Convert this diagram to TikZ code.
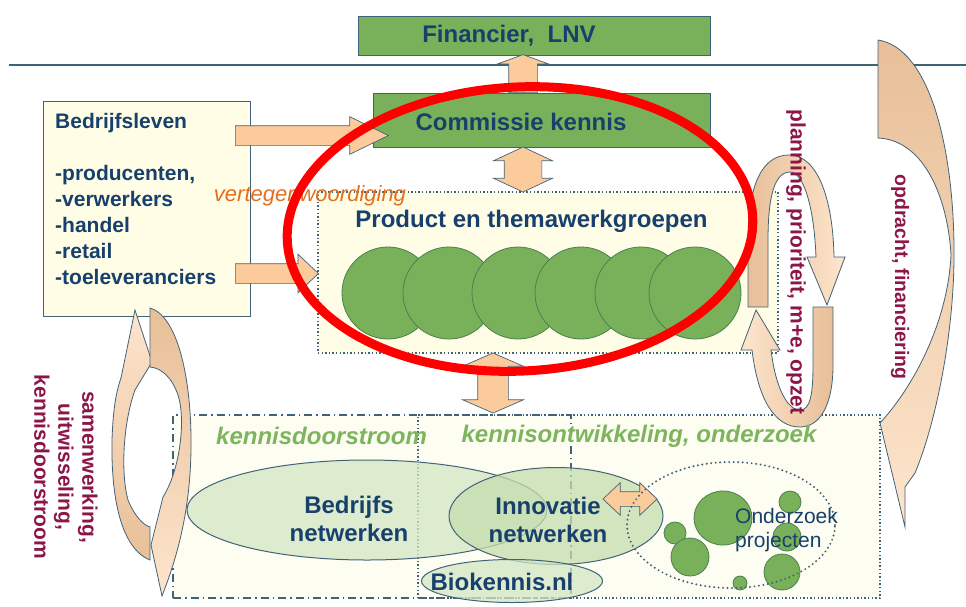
\documentclass[tikz,border=0pt]{standalone}
\usepackage{fontspec}
\setmainfont{Liberation Sans}
\usepackage{tikz}
\usetikzlibrary{shapes.geometric}
\usetikzlibrary{shapes.arrows}
\definecolor{groen}{HTML}{78B159}
\definecolor{bolrand}{HTML}{4B7F52}
\definecolor{rand}{HTML}{426377}
\definecolor{blauw}{HTML}{17406D}
\definecolor{perzik}{HTML}{FBCB9B}
\definecolor{bruin}{HTML}{E8BF98}
\definecolor{licht}{HTML}{FDE5CD}
\definecolor{creme}{HTML}{FFFDE6}
\definecolor{bleek}{HTML}{FDFDF1}
\definecolor{lichtgroen}{HTML}{D3E6C3}
\definecolor{midgroen}{HTML}{C4DDAF}
\definecolor{wijn}{HTML}{8C1747}
\definecolor{oranje}{HTML}{E26F1E}
\definecolor{kleurgroen}{HTML}{7DB55E}
\tikzstyle{vak}=[draw=rand, line width=0.9pt, inner sep=0pt]
\tikzstyle{groenvak}=[vak, fill=groen]
\tikzstyle{stippel}=[line width=1.4pt, dash pattern=on 1.4pt off 2.2pt]
\tikzstyle{streeppunt}=[line width=1.2pt, dash pattern=on 8pt off 4pt on 1.5pt off 4pt]
\tikzstyle{kop}=[text=blauw, font=\fontsize{24}{28}\selectfont\bfseries, inner sep=0pt]
\tikzstyle{gewoon}=[text=blauw, font=\fontsize{21}{26}\selectfont\bfseries, inner sep=0pt, align=left]
\tikzstyle{schuin}=[text=kleurgroen, font=\fontsize{24}{26}\selectfont\bfseries\itshape, inner sep=0pt]
\tikzstyle{paars}=[text=wijn, font=\fontsize{21}{24}\selectfont\bfseries, inner sep=0pt, rotate=-90, align=center]
\tikzstyle{pijl}=[draw=rand, fill=perzik, line width=0.7pt, inner xsep=0pt]
\tikzstyle{enkel}=[pijl, single arrow]
\tikzstyle{dubbel}=[pijl, double arrow]
\tikzstyle{bol}=[circle, draw=bolrand, fill=groen, line width=0.8pt, inner sep=0pt]
\tikzstyle{wolk}=[ellipse, draw=rand, line width=1pt, inner sep=0pt, fill opacity=0.75]
\tikzstyle{lus}=[draw=rand, line width=0.8pt]

\begin{document}
\begin{tikzpicture}[x=1pt, y=-1pt]
    \useasboundingbox (0,0) rectangle (966,606);
    \draw[rand, line width=1.3pt] (9,65) -- (966,65);
    \fill[bleek] (173,415) rectangle (880,598);
    \node[vak, streeppunt, minimum width=398pt, minimum height=183pt] (doorstroom) at (372,506.5) {};
    \node[vak, stippel, minimum width=462pt, minimum height=183pt] (ontwikkeling) at (649,506.5) {};
    \node[vak, stippel, fill=creme, minimum width=460pt, minimum height=161pt] (werkgroepen) at (548,272.5) {};
    \node[vak, fill=creme, minimum width=207pt, minimum height=215pt] (bedrijfsleven) at (146.5,208.5) {};
    \node[groenvak, minimum width=352pt, minimum height=39pt] (financier) at (534,35.5) {};
    \node[groenvak, minimum width=337pt, minimum height=54pt] (commissie) at (541.5,120) {};

    \node[enkel, rotate=90, anchor=tail, minimum height=38pt, inner ysep=14pt, single arrow head extend=11pt, single arrow tip angle=140] (omhoog) at (523,93) {};
    \node[dubbel, rotate=90, minimum height=45pt, inner ysep=18.5pt, double arrow head extend=10.5pt, double arrow tip angle=130] (comwerk) at (523,169.5) {};
    \node[dubbel, rotate=90, minimum height=60pt, inner ysep=15pt, double arrow head extend=15pt, double arrow tip angle=133] (werkkennis) at (493,383) {};
    \node[enkel, anchor=tail, minimum height=153pt, inner ysep=9.5pt, single arrow head extend=9pt, single arrow tip angle=52] (naarcommissie) at (235,135.5) {};
    \node[enkel, anchor=tail, minimum height=83pt, inner ysep=9.5pt, single arrow head extend=9.5pt, single arrow tip angle=87] (naarwerkgroepen) at (235,273.5) {};

    \foreach \x [count=\i] in {388,449,518,581,641,695}
        \node[bol, minimum size=92pt] (groep\i) at (\x,293) {};

    \node[wolk, fill=lichtgroen, minimum width=360pt, minimum height=100pt] (bedrijfsnet) at (367,510) {};
    \node[wolk, fill=midgroen, minimum width=214pt, minimum height=97pt] (innovatienet) at (556,516) {};
    \node[wolk, fill=lichtgroen, minimum width=181pt, minimum height=43pt] (biokennis) at (512,581) {};
    \node[dubbel, minimum height=54pt, inner ysep=7pt, double arrow head extend=9pt, double arrow tip angle=87] (innoonderzoek) at (630,499) {};

    \node[bol, ellipse, minimum width=58pt, minimum height=54pt] (proj1) at (723,518) {};
    \node[bol, minimum size=22pt] (proj2) at (675,533) {};
    \node[bol, minimum size=38pt] (proj3) at (690,557) {};
    \node[bol, minimum size=22pt] (proj4) at (790,502) {};
    \node[bol, minimum size=28pt] (proj5) at (787,537) {};
    \node[bol, minimum size=36pt] (proj6) at (782,572) {};
    \node[bol, minimum size=14pt] (proj7) at (740,583) {};
    \node[ellipse, draw=rand, line width=2.2pt, line cap=round, dash pattern=on 0pt off 4.5pt, minimum width=208pt, minimum height=126pt] (projecten) at (731,525) {};

    \draw[lus, left color=bruin, right color=licht] (748,307) -- (748,240) .. controls (748,185) and (762,155) .. (789,155)
        .. controls (818,155) and (833,200) .. (834,257) -- (845,257) -- (827,305) -- (807,257) -- (816,257)
        .. controls (814,205) and (803,172) .. (790,172) .. controls (775,172) and (768,195) .. (768,240) -- (768,307) -- cycle;
    \draw[lus, left color=licht, right color=bruin] (813,307) -- (833,307) -- (833,365) .. controls (833,405) and (820,427) .. (800,427)
        .. controls (775,427) and (758,400) .. (752,350) -- (741,350) -- (756,310) -- (780,350) -- (771,350)
        .. controls (776,390) and (788,410) .. (800,410) .. controls (810,410) and (813,395) .. (813,365) -- cycle;

    \draw[lus, top color=licht, bottom color=bruin] (150,560) .. controls (120,548) and (111,495) .. (112,440)
        .. controls (113,410) and (116,392) .. (121,378) -- (135,310) -- (152,362) -- (135,390)
        .. controls (124,420) and (120,470) .. (128,500) .. controls (134,515) and (143,525) .. (150,527) -- cycle;
    \draw[lus, top color=bruin, bottom color=licht] (150,308) .. controls (178,316) and (192,380) .. (191,450)
        .. controls (190,510) and (178,555) .. (162,596) -- (151,545) -- (163,497)
        .. controls (180,470) and (186,420) .. (178,395) .. controls (172,378) and (162,368) .. (150,367) -- cycle;

    \draw[lus, top color=bruin, bottom color=licht] (878,40) .. controls (930,48) and (955,150) .. (954,260)
        .. controls (953,340) and (935,425) .. (915,473) -- (905,487) -- (905,527) -- (880,423)
        .. controls (915,385) and (948,320) .. (951,255) .. controls (948,200) and (925,140) .. (878,138) -- cycle;

    \node[kop] (financiertekst) at (509,36) {Financier,~~LNV};
    \node[kop] (commissietekst) at (521,122) {Commissie kennis};
    \node[kop] (werktekst) at (531.5,221) {Product en themawerkgroepen};
    \node[gewoon, anchor=north west] (levenstekst) at (55,113) {Bedrijfsleven\\[26pt]-producenten,\\-verwerkers\\-handel\\-retail\\-toeleveranciers};
    \node[text=oranje, font=\fontsize{22}{24}\selectfont\itshape, inner sep=0pt] (vertegenw) at (310,196) {vertegenwoordiging};
    \node[schuin] (doorstroomtekst) at (321.5,436) {kennisdoorstroom};
    \node[schuin] (ontwikkeltekst) at (639,436) {kennisontwikkeling, onderzoek};
    \node[kop, align=center] (bedrijfsnettekst) at (349,519) {Bedrijfs\\netwerken};
    \node[kop, align=center] (innovatietekst) at (548,520) {Innovatie\\netwerken};
    \node[kop] (biokennistekst) at (502,582) {Biokennis.nl};
    \node[gewoon, font=\fontsize{21}{24}\selectfont, anchor=west] (projtekst) at (735,530) {Onderzoek\\projecten};
    \node[paars] (plantekst) at (796,262) {planning, prioriteit, m+e, opzet};
    \node[paars, font=\fontsize{19.5}{24}\selectfont\bfseries] (opdrachttekst) at (900,277) {opdracht, financiering};
    \node[paars] (samentekst) at (66,467) {samenwerking,\\uitwisseling,\\kennisdoorstroom};

    \node[ellipse, draw=red, line width=9pt, inner sep=0pt, minimum width=466pt, minimum height=284pt, rotate=3] (focus) at (520,229) {};
\end{tikzpicture}
\end{document}
